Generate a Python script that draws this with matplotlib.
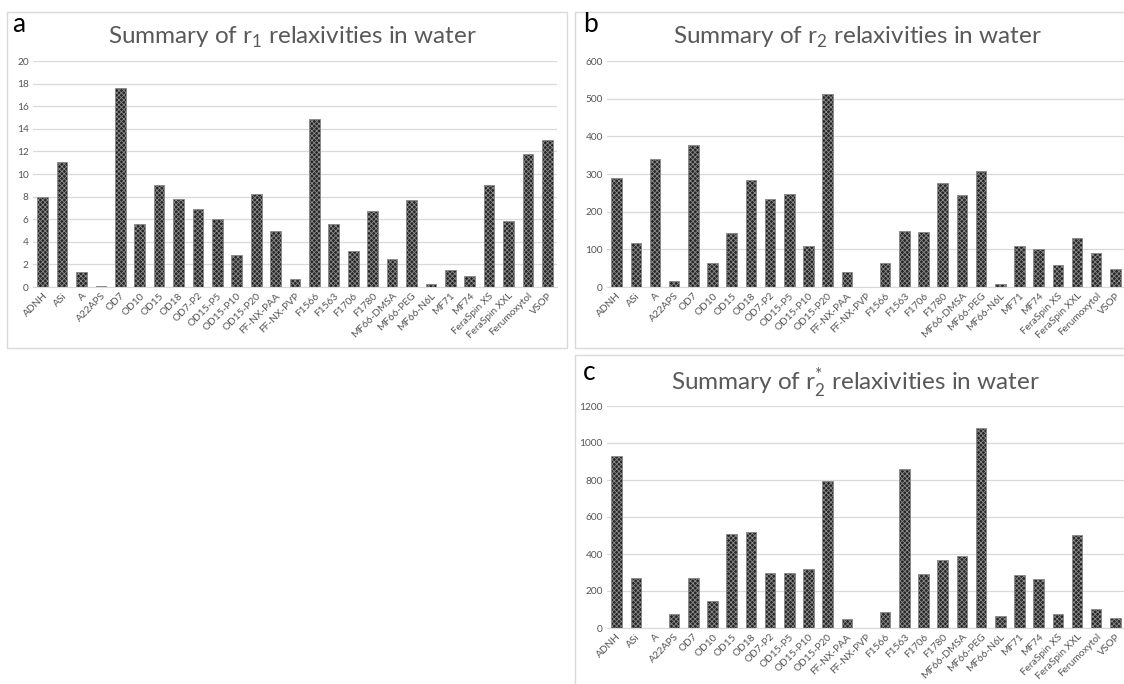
import matplotlib
matplotlib.use("Agg")
import matplotlib.pyplot as plt
from matplotlib.patches import Rectangle

plt.rcParams['font.family'] = ['Lato', 'DejaVu Sans']
plt.rcParams['hatch.linewidth'] = 0.6

categories = ["ADNH", "ASi", "A", "A22APS", "OD7", "OD10", "OD15", "OD18", "OD7-P2",
              "OD15-P5", "OD15-P10", "OD15-P20", "FF-NX-PAA", "FF-NX-PVP", "F1566",
              "F1563", "F1706", "F1780", "MF66-DMSA", "MF66-PEG", "MF66-N6L", "MF71",
              "MF74", "FeraSpin XS", "FeraSpin XXL", "Ferumoxytol", "VSOP"]

r1 = [8.0, 11.1, 1.3, 0.1, 17.6, 5.6, 9.0, 7.8, 6.9, 6.0, 2.8, 8.2, 5.0, 0.7, 14.9,
      5.6, 3.2, 6.7, 2.5, 7.7, 0.25, 1.5, 0.95, 9.0, 5.8, 11.8, 13.0]
r2 = [290, 118, 341, 15, 376, 63, 144, 284, 233, 247, 109, 512, 40, 0, 63,
      150, 146, 275, 243, 307, 8, 109, 100, 58, 130, 91, 49]
r2star = [930, 272, 0, 75, 272, 145, 507, 517, 296, 300, 320, 793, 48, 0, 88,
          862, 292, 370, 388, 1083, 65, 287, 263, 75, 503, 103, 52]

W, H = 1124, 684
fig = plt.figure(figsize=(W / 100, H / 100), dpi=100)
fig.patch.set_facecolor('white')

def px_axes(x0, x1, ytop, ybot):
    return fig.add_axes([x0 / W, (H - ybot) / H, (x1 - x0) / W, (ybot - ytop) / H])

def border(x0, y0, x1, y1):
    fig.patches.append(Rectangle((x0 / W, (H - y1) / H), (x1 - x0) / W, (y1 - y0) / H,
                                 transform=fig.transFigure, fill=False,
                                 edgecolor='#d9d9d9', linewidth=1.0, zorder=0))

def panel(ax, values, ymax, ystep, title, letter, letter_xy, title_xy):
    x = list(range(len(categories)))
    ax.bar(x, values, width=0.55, color='#262626', edgecolor='#8a8a8a',
           hatch='xxxxxxx', linewidth=0.6, zorder=3)
    ax.set_xlim(-0.5, len(categories) - 0.5)
    ax.set_ylim(0, ymax)
    ax.set_yticks(list(range(0, ymax + 1, ystep)))
    ax.yaxis.grid(True, color='#d9d9d9', linewidth=0.9, zorder=0)
    ax.set_axisbelow(True)
    for s in ['top', 'right', 'left']:
        ax.spines[s].set_visible(False)
    ax.spines['bottom'].set_color('#d9d9d9')
    ax.tick_params(axis='both', length=0, labelsize=7.3, labelcolor='#555555', pad=3)
    ax.set_xticks(x)
    ax.set_xticklabels(categories, rotation=45, ha='right', rotation_mode='anchor')
    fig.text(title_xy[0] / W, 1 - title_xy[1] / H, title, ha='center', va='center',
             fontsize=17.5, color='#595959')
    fig.text(letter_xy[0] / W, 1 - letter_xy[1] / H, letter, ha='left', va='center',
             fontsize=19, color='black')

border(7, 12, 567, 348)
border(575, 12, 1130, 348)
border(575, 355, 1130, 690)

axa = px_axes(33, 557, 61, 287)
panel(axa, r1, 20, 2, r'Summary of r$_{\mathregular{1}}$ relaxivities in water', 'a',
      (12, 24), (292, 37))

axb = px_axes(607, 1125, 61, 287)
panel(axb, r2, 600, 100, r'Summary of r$_{\mathregular{2}}$ relaxivities in water', 'b',
      (583, 25), (857, 37))

axc = px_axes(607, 1125, 406, 628)
panel(axc, r2star, 1200, 200,
      r'Summary of r$_{\mathregular{2}}^{\mathregular{*}}$ relaxivities in water', 'c',
      (583, 372), (855, 383))

fig.savefig('out.png', dpi=100)
